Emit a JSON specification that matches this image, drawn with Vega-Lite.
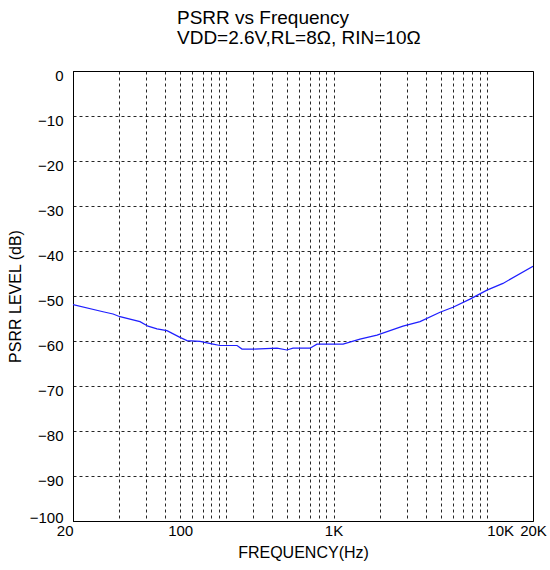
{
  "$schema": "https://vega.github.io/schema/vega-lite/v6.json",
  "autosize": {"type": "none"},
  "padding": {"left": 73, "top": 71, "right": 17, "bottom": 49},
  "width": 460,
  "height": 450,
  "background": "#ffffff",
  "title": {
    "text": ["PSRR vs Frequency", "VDD=2.6V,RL=8Ω, RIN=10Ω"],
    "anchor": "start",
    "frame": "group",
    "dx": 104,
    "fontSize": 19,
    "fontWeight": "normal",
    "font": "Liberation Sans",
    "color": "#000000",
    "lineHeight": 20,
    "offset": 20
  },
  "data": {
    "values": [
      {"freq": 20, "db": -51.9},
      {"freq": 31.4, "db": -53.5},
      {"freq": 36.5, "db": -54.0},
      {"freq": 40.5, "db": -54.6},
      {"freq": 54.7, "db": -55.7},
      {"freq": 61.7, "db": -56.7},
      {"freq": 70.6, "db": -57.3},
      {"freq": 82, "db": -57.7},
      {"freq": 99.7, "db": -59.2},
      {"freq": 110.8, "db": -59.9},
      {"freq": 134.7, "db": -60.1},
      {"freq": 163.7, "db": -60.7},
      {"freq": 182, "db": -61.0},
      {"freq": 235, "db": -61.0},
      {"freq": 253, "db": -61.8},
      {"freq": 299, "db": -61.8},
      {"freq": 428, "db": -61.6},
      {"freq": 497, "db": -62.0},
      {"freq": 544, "db": -61.6},
      {"freq": 703, "db": -61.6},
      {"freq": 780, "db": -60.7},
      {"freq": 1154, "db": -60.7},
      {"freq": 1488, "db": -59.6},
      {"freq": 1922, "db": -58.7},
      {"freq": 2838, "db": -56.7},
      {"freq": 3666, "db": -55.7},
      {"freq": 4950, "db": -53.6},
      {"freq": 6016, "db": -52.5},
      {"freq": 7762, "db": -50.7},
      {"freq": 10020, "db": -48.7},
      {"freq": 12740, "db": -47.2},
      {"freq": 20000, "db": -43.4}
    ]
  },
  "mark": {"type": "line", "color": "#1f1fff", "strokeWidth": 1.2, "clip": true},
  "encoding": {
    "x": {
      "field": "freq",
      "type": "quantitative",
      "scale": {"type": "log", "domain": [20, 20000], "nice": false},
      "axis": {
        "title": "FREQUENCY(Hz)",
        "values": [20, 40, 60, 80, 100, 120, 140, 160, 180, 200, 300, 400, 500, 600, 700, 800, 900, 1000, 2000, 3000, 4000, 5000, 6000, 7000, 8000, 9000, 10000, 20000],
        "labelExpr": "datum.value==20?'20':datum.value==100?'100':datum.value==1000?'1K':datum.value==10000?'10K':datum.value==20000?'20K':''",
        "labelOverlap": false,
        "labelFlush": false,
        "labelAlign": {"condition": [{"test": "datum.value==20", "value": "right"}, {"test": "datum.value==10000", "value": "left"}], "value": "center"},
        "labelBaseline": "top",
        "labelPadding": 2,
        "ticks": false,
        "tickSize": 0,
        "titlePadding": 6
      }
    },
    "y": {
      "field": "db",
      "type": "quantitative",
      "scale": {"domain": [-100, 0], "nice": false, "zero": false},
      "axis": {
        "title": "PSRR LEVEL (dB)",
        "values": [-100, -90, -80, -70, -60, -50, -40, -30, -20, -10, 0],
        "labelPadding": 10,
        "labelOffset": {"condition": {"test": "datum.value==-100", "value": -4}, "value": 4},
        "ticks": false,
        "tickSize": 0,
        "titlePadding": 6
      }
    }
  },
  "config": {
    "font": "Liberation Sans",
    "view": {"stroke": "#000000", "strokeWidth": 1},
    "axis": {
      "domainColor": "#000000",
      "domainWidth": 1,
      "grid": true,
      "gridColor": "#000000",
      "gridDash": [3, 3],
      "gridWidth": 1,
      "gridOpacity": 0.85,
      "labelFont": "Liberation Sans",
      "labelFontSize": 15,
      "labelColor": "#000000",
      "titleFont": "Liberation Sans",
      "titleFontSize": 16,
      "titleFontWeight": "normal",
      "titleColor": "#000000"
    }
  }
}
